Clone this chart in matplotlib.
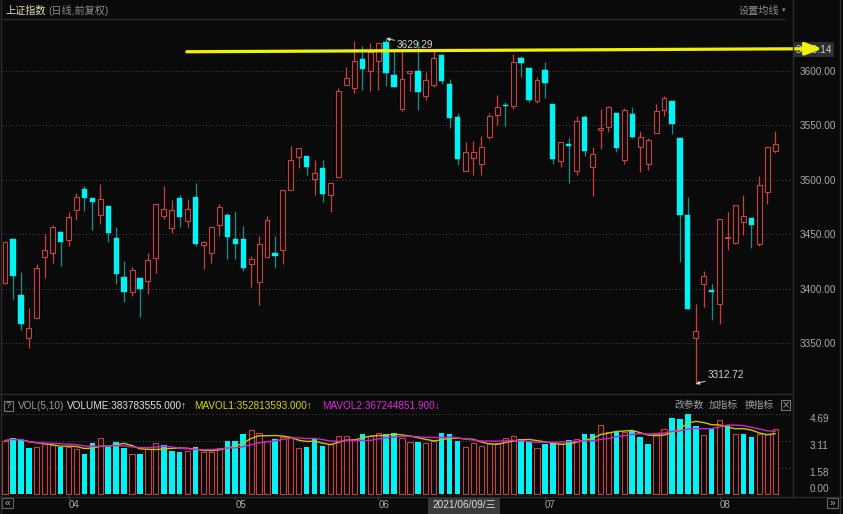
import matplotlib
matplotlib.use('Agg')
import matplotlib.pyplot as plt
import matplotlib.transforms as mtransforms
from matplotlib.lines import Line2D
from matplotlib.patches import Rectangle
import numpy as np
import pandas as pd

plt.rcParams['font.family'] = ['Liberation Sans', 'Noto Sans CJK SC', 'DejaVu Sans']

# 上证指数 日线 2021/03/22 - 2021/08/11
opens = [3405.7, 3445.2, 3394.4, 3354.8, 3373.4, 3429.4, 3432.4, 3451.9, 3444.9, 3472.6,
         3491.8, 3483.6, 3467.4, 3475.6, 3446.1, 3410.8, 3397.4, 3409.6, 3407.2, 3427.9,
         3467.1, 3455.9, 3483.3, 3462.0, 3484.5, 3439.9, 3432.3, 3458.2, 3468.0, 3446.0,
         3446.0, 3423.1, 3406.1, 3428.9, 3432.3, 3435.3, 3490.2, 3520.4, 3521.3, 3500.9,
         3510.6, 3485.6, 3502.4, 3586.3, 3584.0, 3610.7, 3599.7, 3608.9, 3625.9, 3596.1,
         3565.0, 3597.3, 3599.1, 3576.2, 3586.9, 3614.4, 3587.5, 3557.0, 3507.7, 3519.8,
         3514.4, 3538.7, 3558.9, 3568.6, 3567.1, 3611.9, 3602.2, 3571.7, 3600.6, 3569.5,
         3516.8, 3533.0, 3507.7, 3557.0, 3511.6, 3545.1, 3547.8, 3561.0, 3518.3, 3560.0,
         3529.9, 3514.3, 3542.7, 3563.4, 3571.6, 3538.1, 3467.4, 3355.2, 3403.9, 3398.8,
         3385.6, 3446.6, 3442.0, 3461.3, 3464.9, 3441.1, 3488.7, 3526.5]
highs = [3444.0, 3445.5, 3415.4, 3382.8, 3423.0, 3450.4, 3458.3, 3452.8, 3469.9, 3487.5,
         3493.9, 3483.6, 3496.0, 3475.6, 3456.5, 3425.4, 3420.3, 3409.6, 3432.7, 3479.0,
         3493.9, 3481.7, 3485.7, 3482.6, 3496.9, 3443.6, 3457.0, 3478.0, 3469.2, 3471.0,
         3457.9, 3429.9, 3448.1, 3466.4, 3448.1, 3490.5, 3530.5, 3528.9, 3521.3, 3517.7,
         3518.3, 3497.2, 3584.4, 3603.5, 3626.6, 3622.0, 3625.0, 3625.0, 3629.29, 3618.9,
         3618.9, 3599.7, 3626.6, 3598.5, 3618.9, 3614.4, 3592.4, 3561.0, 3534.5, 3535.1,
         3539.7, 3561.0, 3577.8, 3571.0, 3615.0, 3613.7, 3602.2, 3594.5, 3607.7, 3569.5,
         3534.5, 3538.1, 3558.0, 3558.9, 3529.5, 3564.9, 3567.7, 3561.0, 3565.5, 3566.1,
         3544.8, 3538.1, 3569.2, 3576.8, 3571.6, 3538.1, 3483.8, 3385.6, 3416.7, 3404.5,
         3464.0, 3470.4, 3477.1, 3486.3, 3464.9, 3503.0, 3529.9, 3544.2]
lows = [3404.0, 3390.4, 3362.4, 3345.4, 3373.0, 3410.2, 3423.3, 3420.9, 3439.1, 3462.9,
        3471.7, 3453.4, 3459.5, 3442.5, 3404.1, 3388.3, 3393.5, 3373.7, 3395.0, 3414.8,
        3464.1, 3450.7, 3456.5, 3456.8, 3439.1, 3417.7, 3423.8, 3448.1, 3427.7, 3426.8,
        3416.7, 3401.8, 3384.7, 3428.9, 3418.6, 3422.8, 3490.2, 3510.6, 3503.9, 3486.0,
        3479.9, 3470.1, 3502.4, 3586.3, 3579.3, 3582.3, 3580.8, 3582.3, 3585.4, 3584.5,
        3562.5, 3581.4, 3563.4, 3573.2, 3584.5, 3587.5, 3547.3, 3513.7, 3507.7, 3504.0,
        3504.6, 3537.5, 3550.3, 3548.8, 3565.0, 3594.5, 3571.0, 3570.2, 3574.7, 3514.7,
        3511.3, 3497.0, 3504.6, 3521.4, 3485.3, 3528.0, 3543.6, 3525.3, 3514.3, 3538.1,
        3506.7, 3509.1, 3542.7, 3558.5, 3541.7, 3424.7, 3381.1, 3312.72, 3383.2, 3371.0,
        3368.0, 3435.6, 3441.4, 3449.7, 3437.5, 3439.0, 3477.7, 3524.4]
closes = [3443.1, 3412.1, 3367.6, 3364.0, 3418.7, 3435.2, 3456.8, 3442.5, 3466.2, 3484.5,
          3483.6, 3479.9, 3482.6, 3451.3, 3413.3, 3397.4, 3416.9, 3399.6, 3426.7, 3477.5,
          3472.9, 3472.6, 3465.6, 3473.5, 3441.3, 3442.7, 3457.0, 3475.0, 3447.2, 3441.4,
          3419.2, 3427.7, 3441.4, 3462.8, 3429.9, 3490.5, 3517.7, 3528.9, 3511.3, 3506.4,
          3486.9, 3497.2, 3580.8, 3593.0, 3608.9, 3601.2, 3617.4, 3625.0, 3597.6, 3584.5,
          3592.4, 3599.7, 3580.2, 3591.5, 3611.3, 3590.0, 3556.4, 3518.9, 3525.1, 3525.6,
          3529.6, 3558.0, 3566.2, 3567.1, 3607.7, 3606.7, 3573.2, 3591.5, 3588.4, 3519.2,
          3534.5, 3530.8, 3553.4, 3525.9, 3523.8, 3547.2, 3566.4, 3528.9, 3564.0, 3539.0,
          3538.8, 3536.6, 3562.5, 3574.7, 3550.9, 3468.0, 3381.1, 3361.3, 3411.6, 3397.2,
          3464.0, 3447.8, 3477.1, 3466.4, 3458.8, 3494.8, 3529.9, 3532.6]
# 成交量 (亿)
volumes = [3.14, 3.27, 3.18, 2.73, 2.75, 2.92, 2.88, 2.78, 2.75, 2.63,
           2.36, 2.98, 3.31, 2.78, 3.08, 2.73, 2.36, 2.36, 2.63, 3.02,
           2.88, 2.53, 2.49, 2.53, 2.75, 2.49, 2.49, 2.73, 3.14, 3.14,
           3.53, 3.76, 3.57, 3.12, 3.21, 3.37, 3.37, 2.73, 2.78, 3.27,
           2.82, 2.92, 3.42, 3.42, 3.23, 3.51, 3.42, 3.57, 3.51, 3.57,
           3.31, 3.08, 3.08, 3.02, 3.14, 3.60, 3.53, 3.14, 2.78, 3.02,
           2.82, 2.98, 3.02, 3.31, 3.42, 3.21, 3.08, 2.69, 2.94, 2.98,
           2.94, 3.18, 3.21, 3.51, 3.51, 4.05, 3.62, 3.70, 3.62, 3.70,
           3.37, 2.94, 3.51, 3.82, 4.44, 4.40, 4.68, 3.99, 3.47, 3.80,
           4.34, 4.05, 3.51, 3.51, 3.37, 3.51, 3.51, 3.84]
prev_close = 3404.7  # 03/19 close, colours the first volume bar

price_ticks = [3350, 3400, 3450, 3500, 3550, 3600]
vol_ticks = [0, 1.563, 3.127, 4.69]
vol_tick_labels = ['0.00', '1.58', '3.11', '4.69']
month_pos = [8, 29, 47, 68, 90]
month_labels = ['04', '05', '06', '07', '08']
marked_price = 3619.14
line_start = (22.9, 3617.2)   # hand drawn yellow line
line_end = (102.9, 3620.0)

W, H = 843, 514
BG = '#0a0a0a'
RED = '#c84040'
CYAN = '#00f2f2'
TEAL = '#168c8c'
GRID = '#3c3c3c'
SEP = '#2c2c2c'
LBL = '#a8a8a8'

fig = plt.figure(figsize=(W / 100, H / 100), dpi=100, facecolor=BG)


def box(x0, y0, x1, y1):
    return [x0 / W, 1 - y1 / H, (x1 - x0) / W, (y1 - y0) / H]


def ftext(x, y, s, **kw):
    kw.setdefault('va', 'center')
    return fig.text(x / W, 1 - y / H, s, **kw)


def fline(x0, y0, x1, y1, c=SEP, lw=1):
    fig.add_artist(Line2D([x0 / W, x1 / W], [1 - y0 / H, 1 - y1 / H], color=c, lw=lw))


o, h, l, c = map(np.array, (opens, highs, lows, closes))
v = np.array(volumes)
x = np.arange(len(c))
up = c >= o
vol_up = c >= np.r_[prev_close, c[:-1]]
xlim = (-3 / 7.94, 787 / 7.94)

# ---- K线
ax = fig.add_axes(box(2, 19, 792, 393), facecolor=BG)
ax.vlines(x[up], l[up], h[up], color=RED, lw=0.9, zorder=2)
ax.vlines(x[~up], l[~up], h[~up], color=TEAL, lw=0.9, zorder=2)
ax.bar(x[up], c[up] - o[up], bottom=o[up], width=0.62, facecolor=BG,
       edgecolor=RED, lw=0.8, zorder=3)
ax.bar(x[~up], o[~up] - c[~up], bottom=c[~up], width=0.66, color=CYAN,
       edgecolor=CYAN, lw=0.3, zorder=3)
ax.set_xlim(*xlim)
ax.set_ylim(3304.45, 3647.2)
ax.set_xticks([])
ax.set_yticks(price_ticks)
ax.set_yticklabels(['%.2f' % p for p in price_ticks])
ax.yaxis.tick_right()
ax.tick_params(axis='y', length=0, pad=5.5, labelsize=7.2, labelcolor=LBL)
ax.yaxis.grid(True, color=GRID, lw=0.8, ls=(0, (1, 2)))
for s in ax.spines.values():
    s.set_visible(False)

# 最高 / 最低 标注
ih, il = int(np.argmax(h)), int(np.argmin(l))
ax.annotate('%.2f' % h[ih], xy=(x[ih], h[ih]), xytext=(11, -6), textcoords='offset pixels',
            color='#d0d0d0', fontsize=7.2, va='center', ha='left',
            arrowprops=dict(arrowstyle='-|>', color='#d0d0d0', lw=0.7,
                            mutation_scale=5, shrinkA=0, shrinkB=0))
ax.annotate('%.2f' % l[il], xy=(x[il], l[il]), xytext=(12, 9), textcoords='offset pixels',
            color='#d0d0d0', fontsize=7.2, va='center', ha='left',
            arrowprops=dict(arrowstyle='-|>', color='#d0d0d0', lw=0.7,
                            mutation_scale=5, shrinkA=0, shrinkB=0))

# 右侧价格标签 + 黄色画线
tr = mtransforms.blended_transform_factory(ax.transAxes, ax.transData)
ax.text(1.004, marked_price, '%.2f' % marked_price, transform=tr, ha='left', va='center',
        fontsize=7.2, color='#d0d0d0', zorder=5,
        bbox=dict(boxstyle='square,pad=0.25', fc='#2e2e2e', ec='none'))
ax.annotate('', xy=line_end, xytext=line_start, annotation_clip=False, zorder=10,
            arrowprops=dict(arrowstyle='-|>,head_length=0.5,head_width=0.19',
                            mutation_scale=20, lw=2.3, color='#f2f200',
                            shrinkA=0, shrinkB=0))

# ---- 成交量
axv = fig.add_axes(box(2, 410, 792, 496), facecolor=BG)
axv.bar(x[vol_up], v[vol_up], width=0.66, facecolor=BG, edgecolor=RED, lw=0.8, zorder=2)
axv.bar(x[~vol_up], v[~vol_up], width=0.7, color=CYAN, lw=0, zorder=2)
ma5 = pd.Series(v).rolling(5, min_periods=1).mean()
ma10 = pd.Series(v).rolling(10, min_periods=1).mean()
axv.plot(x, ma5, color='#c8c400', lw=1, zorder=3)
axv.plot(x, ma10, color='#d020d0', lw=1, zorder=3)
axv.set_xlim(*xlim)
axv.set_ylim(-0.1, 4.93)
axv.set_yticks(vol_ticks)
axv.set_yticklabels(vol_tick_labels)
axv.yaxis.tick_right()
axv.tick_params(axis='y', length=0, pad=12.5, labelsize=7.2, labelcolor=LBL)
for i, t in enumerate(axv.get_yticklabels()):
    t.set_va('bottom' if i == 0 else 'top')
for yv in vol_ticks[1:]:
    axv.axhline(yv, color=GRID, lw=0.8, ls=(0, (1, 2)), zorder=1)
axv.set_xticks(month_pos)
axv.set_xticklabels(month_labels, ha='left')
axv.tick_params(axis='x', length=2, color='#555555', labelsize=7, labelcolor=LBL, pad=0.8)
for s in axv.spines.values():
    s.set_visible(False)

# ---- 框线
fline(3, 18.5, 785, 18.5)
fline(0, 393.5, 792, 393.5)
fline(0, 496.5, 843, 496.5)
fline(792.5, 0, 792.5, 497)
fline(839.5, 0, 839.5, 514)
fline(1, 0, 1, 514)

# ---- 文字
ftext(5, 11, '上证指数', color='#e6dfb4', fontsize=7.3)
ftext(48, 11, '(日线,前复权)', color='#8c8c8c', fontsize=7.3)
ftext(739, 11, '设置均线', color='#8c8c8c', fontsize=7.3)
ftext(782, 10, '▾', color='#8c8c8c', fontsize=5, family='DejaVu Sans')

fig.add_artist(Rectangle((4 / W, 1 - 411 / H), 9 / W, 10 / H, transform=fig.transFigure,
                         fill=False, ec='#777777', lw=0.8))
ftext(8.5, 406, '?', color='#aaaaaa', fontsize=6.5, ha='center')
ftext(18, 406, 'VOL(5,10)', color='#9a9a9a', fontsize=7.2)
ftext(67, 406, 'VOLUME:383783555.000↑', color='#e2e2e2', fontsize=7.2)
ftext(194, 406, 'MAVOL1:352813593.000↑', color='#d6d400', fontsize=7.2)
ftext(322, 406, 'MAVOL2:367244851.900↓', color='#e020e0', fontsize=7.2)
ftext(674, 405, '改参数', color='#a0a0a0', fontsize=7)
ftext(709, 405, '加指标', color='#a0a0a0', fontsize=7)
ftext(745, 405, '换指标', color='#a0a0a0', fontsize=7)
fig.add_artist(Rectangle((781 / W, 1 - 410 / H), 9 / W, 10 / H, transform=fig.transFigure,
                         fill=False, ec='#777777', lw=0.8))
ftext(785.5, 405, '×', color='#999999', fontsize=7, ha='center', family='DejaVu Sans')

# 日期框 / 翻页按钮
fig.add_artist(Rectangle((428 / W, 0), 72 / W, 16.5 / H, transform=fig.transFigure,
                         fc='#3a3a3a', ec='none'))
ftext(432, 505.5, '2021/06/09/三', color='#dcdcdc', fontsize=7.3)
fig.add_artist(Rectangle((2 / W, 1 - 508 / H), 11 / W, 10 / H, transform=fig.transFigure,
                         fill=False, ec='#666666', lw=0.8))
ftext(7.5, 503, '«', color='#aaaaaa', fontsize=7.5, ha='center')
fig.add_artist(Rectangle((827 / W, 1 - 508 / H), 11 / W, 10 / H, transform=fig.transFigure,
                         fill=False, ec='#666666', lw=0.8))
ftext(832.5, 503, '»', color='#aaaaaa', fontsize=7.5, ha='center')

fig.savefig('out.png', dpi=100, facecolor=BG)
